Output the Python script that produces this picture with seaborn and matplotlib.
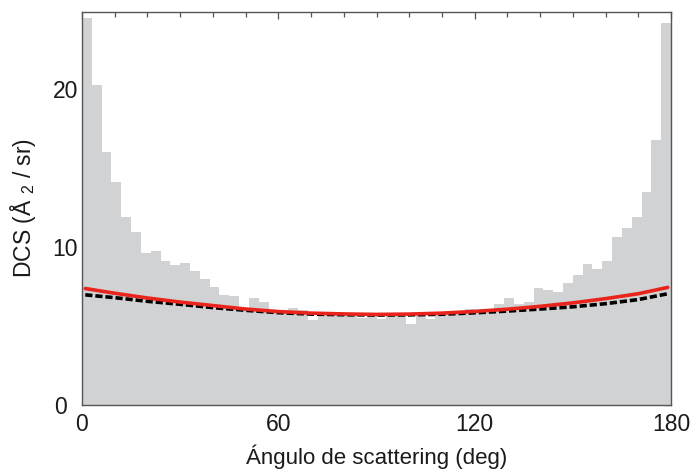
import numpy as np
import pandas as pd
import matplotlib
matplotlib.use("Agg")
import matplotlib.pyplot as plt
import seaborn as sns
from matplotlib.ticker import MultipleLocator

# ---- data ----
bin_edges = list(range(0, 181, 3))
dcs_hist = [24.5, 20.3, 16.0, 14.1, 11.9, 10.95, 9.6, 9.75, 9.15, 8.9,
            9.0, 8.5, 8.0, 7.5, 6.95, 6.9, 6.0, 6.75, 6.5, 6.0,
            6.05, 6.15, 6.05, 5.4, 5.85, 5.85, 5.7, 5.75, 5.5, 5.8,
            5.42, 5.7, 5.7, 5.13, 5.74, 5.42, 5.8, 5.9, 5.97, 6.1,
            6.05, 6.0, 6.38, 6.8, 6.38, 6.5, 7.4, 7.3, 7.15, 7.73,
            8.22, 8.92, 8.64, 9.1, 10.66, 11.2, 11.9, 13.5, 16.8, 24.2]
curve_angle = [1, 10, 20, 30, 40, 50, 60, 70, 80, 90, 100, 110, 120,
               130, 140, 150, 160, 170, 179]
red_curve = [7.38, 7.08, 6.78, 6.52, 6.3, 6.08, 5.92, 5.82, 5.77, 5.74,
             5.76, 5.82, 5.93, 6.07, 6.25, 6.47, 6.74, 7.05, 7.45]
black_curve = [6.98, 6.8, 6.57, 6.38, 6.17, 6.0, 5.85, 5.76, 5.72, 5.7,
               5.71, 5.75, 5.84, 5.95, 6.08, 6.22, 6.42, 6.68, 7.05]
xticks = [0, 60, 120, 180]
yticks = [0, 10, 20]

sns.set_theme(style="white")
plt.rcParams['font.family'] = ['Liberation Sans', 'DejaVu Sans']
plt.rcParams['mathtext.fontset'] = 'custom'
plt.rcParams['mathtext.rm'] = 'Liberation Sans'
plt.rcParams['mathtext.default'] = 'regular'

fig = plt.figure(figsize=(6.92, 4.72), dpi=100)
ax = fig.add_axes([82/692, 1-405/472, (671-82)/692, (405-12)/472])

centers = [(bin_edges[i] + bin_edges[i+1]) / 2 for i in range(len(dcs_hist))]
df = pd.DataFrame({"angle": centers, "dcs": dcs_hist})
sns.histplot(data=df, x="angle", weights="dcs", bins=bin_edges, ax=ax,
             color="#d0d2d4", alpha=1, linewidth=0, element="bars")

cdf = pd.DataFrame({"angle": curve_angle, "red": red_curve, "black": black_curve})
sns.lineplot(data=cdf, x="angle", y="black", ax=ax, color="black", lw=2.6,
             linestyle=(0, (2.0, 0.8)))
sns.lineplot(data=cdf, x="angle", y="red", ax=ax, color="#e8241c", lw=2.6)

ax.set_xlim(0, 180)
ax.set_ylim(0, 24.9)
ax.set_xticks(xticks)
ax.set_yticks(yticks)
ax.xaxis.set_minor_locator(MultipleLocator(10))
ax.yaxis.set_minor_locator(MultipleLocator(2))
ax.tick_params(which='both', direction='in', top=True, right=True,
               color='#555555', width=0.9)
ax.tick_params(which='major', length=5, labelsize=16.5, labelcolor='#1a1a1a')
ax.tick_params(axis='y', which='major', pad=3)
ax.tick_params(axis='x', which='major', pad=6)
ax.tick_params(which='minor', length=3.5)
ax.yaxis.get_major_ticks()[0].set_pad(11)
for s in ax.spines.values():
    s.set_color('#555555')
    s.set_linewidth(1.0)

ax.set_xlabel("Ángulo de scattering (deg)", fontsize=16, color='#1a1a1a', labelpad=6)
ax.set_ylabel("DCS (Å $_{2}$ / sr)", fontsize=16.5, color='#1a1a1a', labelpad=10)

fig.savefig("out.png", dpi=100)
